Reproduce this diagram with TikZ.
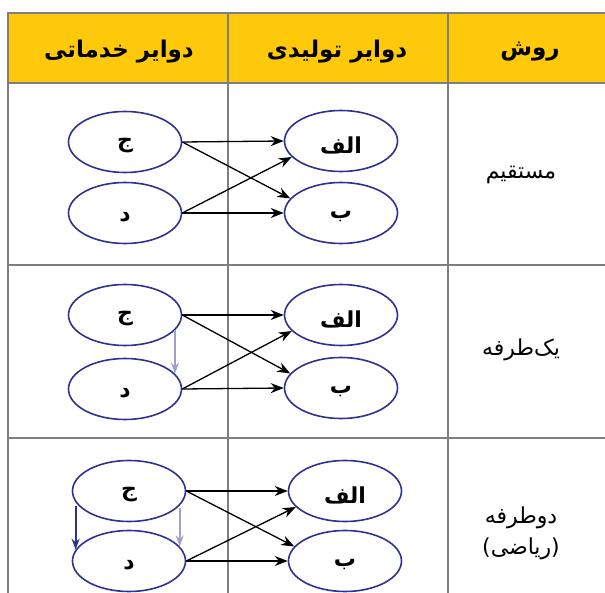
\documentclass[tikz,border=0pt]{standalone}
\usepackage{fontspec}
\usetikzlibrary{arrows.meta,shapes.geometric}
\newfontfamily\farsi[Script=Arabic]{DejaVu Sans}
\TeXXeTstate=1
\newcommand{\farsitxt}[1]{{\farsi\beginR #1\endR}}
\newcommand{\harf}[1]{\raisebox{-4pt}[\height][\depth]{\farsitxt{#1}}}
\definecolor{gridgray}{HTML}{7F7F7F}
\definecolor{headyellow}{HTML}{FFC90B}
\definecolor{circblue}{HTML}{2E3192}
\definecolor{lightpurple}{HTML}{A29ED0}
\tikzset{
  tablekhat/.style={draw=gridgray, line width=2.2pt},
  sarkhat/.style={font=\bfseries\fontsize{23}{26}\selectfont},
  ravesh/.style={font=\fontsize{22}{31}\selectfont, align=center},
  dayere/.style={ellipse, draw=circblue, line width=1.6pt, minimum width=113pt,
    minimum height=61pt, inner sep=0pt, font=\bfseries\fontsize{22}{22}\selectfont},
  jarayan/.style={-{Stealth[length=13pt,width=10pt]}, line width=1.3pt},
  kamrang/.style={-{Stealth[length=11pt,width=8pt]}, draw=lightpurple, line width=2.2pt},
  porrang/.style={-{Stealth[length=11pt,width=8pt]}, draw=circblue, line width=2.2pt}
}
\begin{document}
\begin{tikzpicture}[x=1pt,y=-1pt]
  \useasboundingbox (0,0) rectangle (605,593);
  % Draw the header band
  \fill[headyellow] (8,13) rectangle (605,83);
  % Draw the table lines
  \draw[tablekhat] (605,13) -- (8,13) -- (8,593);
  \draw[tablekhat] (8,83) -- (605,83);
  \draw[tablekhat] (8,265) -- (605,265);
  \draw[tablekhat] (8,438) -- (605,438);
  \draw[tablekhat] (228,13) -- (228,593);
  \draw[tablekhat] (448,13) -- (448,593);

  % Header texts
  \node[sarkhat] (khadamati) at (119,52) {\farsitxt{دوایر خدماتی}};
  \node[sarkhat] (tolidi) at (337,52) {\farsitxt{دوایر تولیدی}};
  \node[sarkhat] (ravesh) at (530,52) {\farsitxt{روش}};

  % Row 1: direct
  \node[dayere] (jim1) at (125,142) {\harf{ج}};
  \node[dayere] (dal1) at (125,213) {\harf{د}};
  \node[dayere] (alef1) at (341,141) {\harf{الف}};
  \node[dayere] (be1) at (341,213) {\harf{ب}};
  \draw[jarayan] (jim1.east) -- (alef1.west);
  \draw[jarayan] (jim1.east) -- (be1.164);
  \draw[jarayan] (dal1.east) -- (alef1.198);
  \draw[jarayan] (dal1.east) -- (be1.west);
  \node[ravesh] (mostaghim) at (521,175) {\farsitxt{مستقیم}};

  % Row 2: one-way
  \node[dayere] (jim2) at (125,315) {\harf{ج}};
  \node[dayere] (dal2) at (125,389) {\harf{د}};
  \node[dayere] (alef2) at (341,315) {\harf{الف}};
  \node[dayere] (be2) at (341,388) {\harf{ب}};
  \draw[kamrang] (jim2.-17) -- (dal2.17);
  \draw[jarayan] (jim2.east) -- (alef2.west);
  \draw[jarayan] (jim2.east) -- (be2.164);
  \draw[jarayan] (dal2.east) -- (alef2.198);
  \draw[jarayan] (dal2.east) -- (be2.west);
  \node[ravesh] (yektarafe) at (521,350) {\farsitxt{یک‌طرفه}};

  % Row 3: two-way (reciprocal)
  \node[dayere] (jim3) at (129,491) {\harf{ج}};
  \node[dayere] (dal3) at (129,561) {\harf{د}};
  \node[dayere] (alef3) at (345,491) {\harf{الف}};
  \node[dayere] (be3) at (345,561) {\harf{ب}};
  \draw[porrang, shorten <=4pt] (jim3.192) -- (dal3.168);
  \draw[kamrang, shorten <=2pt] (jim3.-16) -- (dal3.16);
  \draw[jarayan] (jim3.east) -- (alef3.west);
  \draw[jarayan] (jim3.east) -- (be3.164);
  \draw[jarayan] (dal3.east) -- (alef3.198);
  \draw[jarayan] (dal3.east) -- (be3.west);
  \node[ravesh] (dotarafe) at (521,533) {\farsitxt{دوطرفه}\\\farsitxt{(ریاضی)}};
\end{tikzpicture}
\end{document}
